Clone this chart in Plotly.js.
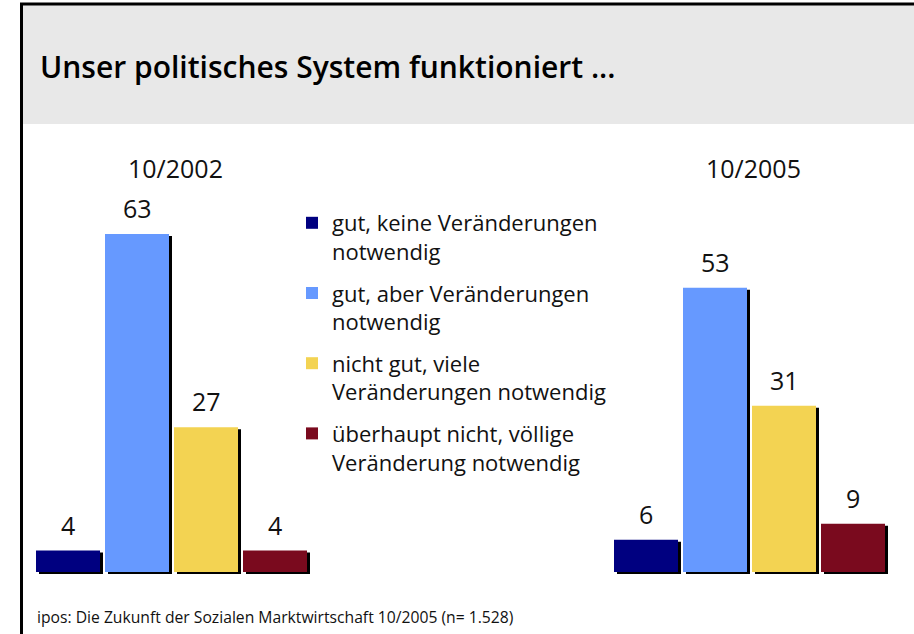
<!DOCTYPE html>
<html>
<head>
<meta charset="utf-8">
<script src="https://cdn.plot.ly/plotly-3.0.1.min.js"></script>
<style>
  html, body { margin: 0; padding: 0; background: #fff; }
  #chart { width: 914px; height: 634px; }
</style>
</head>
<body>
<div id="chart"></div>
<script>
// ---- data ----
const surveyWaves = ['10/2002', '10/2005'];
const answerCategories = [
  'gut, keine Veränderungen<br>notwendig',
  'gut, aber Veränderungen<br>notwendig',
  'nicht gut, viele<br>Veränderungen notwendig',
  'überhaupt nicht, völlige<br>Veränderung notwendig'
];
const values2002 = [4, 63, 27, 4];
const values2005 = [6, 53, 31, 9];
const titleText = 'Unser politisches System funktioniert ...';
const sourceText = 'ipos: Die Zukunft der Sozialen Marktwirtschaft 10/2005 (n= 1.528)';

// ---- styling / layout constants ----
const W = 914, H = 634;
const colors = ['#000080', '#6699FF', '#F3D352', '#7A0A1E'];
const FONT = 'Open Sans, Noto Sans, sans-serif';
const pxPerGroup = 578;          // distance between group centres in px
const firstGroupCenterPx = 171.5;
const baselinePx = 572;
const pxPerUnit = 338 / 63;
const barPx = 64, pitchPx = 69;
const shadowDx = 3, shadowDy = 2;

const x0 = -firstGroupCenterPx / pxPerGroup;
const x1 = x0 + W / pxPerGroup;
const y0 = -(H - baselinePx) / pxPerUnit;
const y1 = baselinePx / pxPerUnit;

const barW = barPx / pxPerGroup;
const groupHalf = (3 * pitchPx + barPx) / 2;
const offsetOf = i => (-groupHalf + i * pitchPx) / pxPerGroup;
const xIdx = surveyWaves.map((_, k) => k);

const traces = [];
const annotations = [];
// shadows
answerCategories.forEach((name, i) => {
  const ys = [values2002[i], values2005[i]];
  traces.push({
    type: 'bar', x: xIdx, y: ys,
    base: -shadowDy / pxPerUnit,
    width: barW, offset: offsetOf(i) + shadowDx / pxPerGroup,
    legendgroup: 'g' + i,
    marker: { color: '#000000', line: { width: 0 } },
    showlegend: false, hoverinfo: 'skip'
  });
});
// bars
answerCategories.forEach((name, i) => {
  const ys = [values2002[i], values2005[i]];
  traces.push({
    type: 'bar', name: name, x: xIdx, y: ys,
    width: barW, offset: offsetOf(i),
    legendgroup: 'g' + i,
    marker: { color: colors[i], line: { width: 0 } }
  });
  ys.forEach((v, k) => {
    annotations.push({
      xref: 'x', yref: 'y', x: k + offsetOf(i) + barW / 2, y: v,
      text: String(v), showarrow: false, yanchor: 'bottom', yshift: 7,
      font: { family: FONT, size: 25, color: '#111' }
    });
  });
});
// wave labels
surveyWaves.forEach((w, k) => {
  annotations.push({
    xref: 'x', yref: 'paper', x: k, y: 1 - 168 / H, xshift: 4,
    text: w, showarrow: false, yanchor: 'middle',
    font: { family: FONT, size: 25, color: '#111' }
  });
});
// source
annotations.push({
  xref: 'paper', yref: 'paper', x: 35 / W, y: 1 - 617 / H,
  xanchor: 'left', yanchor: 'middle', showarrow: false,
  text: sourceText, font: { family: FONT, size: 15.7, color: '#111' }
});

const layout = {
  width: W, height: H,
  margin: { l: 0, r: 0, t: 0, b: 0, pad: 0 },
  paper_bgcolor: '#ffffff', plot_bgcolor: 'rgba(0,0,0,0)',
  barmode: 'overlay',
  showlegend: true,
  title: {
    text: titleText, x: 40 / W, xanchor: 'left', xref: 'paper',
    y: 1 - 67 / H, yanchor: 'middle', yref: 'container',
    font: { family: 'Open Sans, sans-serif', size: 30, weight: 600, color: '#000' }
  },
  legend: {
    x: 292 / W, xanchor: 'left', y: 1 - 202 / H, yanchor: 'top',
    font: { family: FONT, size: 22, color: '#111' },
    valign: 'top', tracegroupgap: 10, traceorder: 'grouped',
    bgcolor: 'rgba(0,0,0,0)', borderwidth: 0
  },
  xaxis: { range: [x0, x1], visible: false, fixedrange: true },
  yaxis: { range: [y0, y1], visible: false, fixedrange: true },
  shapes: [
    { type: 'rect', xref: 'paper', yref: 'paper', layer: 'below',
      x0: 22 / W, x1: 1, y0: 1 - 124 / H, y1: 1 - 5 / H,
      fillcolor: '#E8E8E8', line: { width: 0 } },
    { type: 'line', xref: 'paper', yref: 'paper',
      x0: 21.5 / W, x1: 21.5 / W, y0: 0, y1: 1 - 3 / H,
      line: { color: '#000', width: 3 } },
    { type: 'line', xref: 'paper', yref: 'paper',
      x0: 20 / W, x1: 1, y0: 1 - 4 / H, y1: 1 - 4 / H,
      line: { color: '#000', width: 3 } }
  ],
  annotations: annotations
};

Plotly.newPlot('chart', traces, layout, { staticPlot: true, displayModeBar: false });
</script>
</body>
</html>
